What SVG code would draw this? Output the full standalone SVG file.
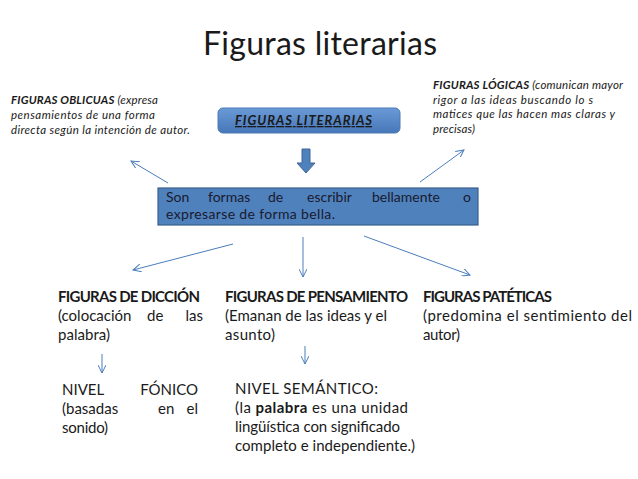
<svg xmlns="http://www.w3.org/2000/svg" width="638" height="479" viewBox="0 0 638 479">
  <style>
    text { font-family: Lato, "Liberation Sans", sans-serif; fill: #1a1a1a; }
    .title { font-size: 32px; }
    .it { font-size: 11.5px; font-style: italic; }
    .b { font-weight: bold; }
    .body { font-size: 15px; }
    .box { font-size: 14px; fill: #1a1a2e; }
    .end { text-anchor: end; }
    .conn { stroke: #4a7ebb; stroke-width: 1; fill: none; }
  </style>
  <defs>
    <linearGradient id="g1" x1="0" y1="0" x2="0" y2="1">
      <stop offset="0" stop-color="#6a9ad6"/>
      <stop offset="1" stop-color="#4777b8"/>
    </linearGradient>
    <marker id="ah" markerWidth="10" markerHeight="8" refX="8" refY="4" orient="auto" markerUnits="userSpaceOnUse">
      <path d="M0,0 L8,4 L0,8" fill="none" stroke="#4a7ebb" stroke-width="1"/>
    </marker>
  </defs>

  <text class="title" x="203" y="55" textLength="234">Figuras literarias</text>

  <g id="oblicuas">
    <text class="it" x="11" y="104" textLength="147"><tspan class="b">FIGURAS OBLICUAS</tspan> (expresa</text>
    <text class="it" x="11" y="119" textLength="144">pensamientos de una forma</text>
    <text class="it" x="11" y="134" textLength="179">directa según la intención de autor.</text>
  </g>

  <g id="logicas">
    <text class="it" x="433" y="89" textLength="190"><tspan class="b">FIGURAS LÓGICAS</tspan> (comunican mayor</text>
    <text class="it" x="433" y="104" textLength="160">rigor a las ideas buscando lo s</text>
    <text class="it" x="433" y="118" textLength="182">matices que las hacen mas claras y</text>
    <text class="it" x="433" y="133" textLength="42">precisas)</text>
  </g>

  <g id="literarias">
    <rect x="218" y="108" width="182" height="25" rx="5" fill="url(#g1)" stroke="#4a7ab5" stroke-width="1"/>
    <text x="235" y="125" font-size="13" font-style="italic" font-weight="bold" text-decoration="underline" fill="#17223b" textLength="137">FIGURAS LITERARIAS</text>
  </g>

  <g id="bigarrow">
    <path d="M302,149 H310 V163 H315 L306,173 L297,163 H302 Z" fill="#4f81bd" stroke="#3d6596" stroke-width="1"/>
  </g>

  <g id="definicion">
    <rect x="158" y="188" width="320" height="37" fill="#4f81bd" stroke="#3a5f8c" stroke-width="1.2"/>
    <text class="box" x="166" y="202">Son</text>
    <text class="box" x="208" y="202">formas</text>
    <text class="box" x="268" y="202">de</text>
    <text class="box" x="307" y="202">escribir</text>
    <text class="box" x="372" y="202">bellamente</text>
    <text class="box end" x="471" y="202">o</text>
    <text class="box" x="166" y="219" textLength="169">expresarse de forma bella.</text>
  </g>

  <g id="diccion">
    <text class="body b" x="58" y="302" textLength="142">FIGURAS  DE DICCIÓN</text>
    <text class="body" x="58" y="321">(colocación</text>
    <text class="body" x="147" y="321">de</text>
    <text class="body end" x="203" y="321">las</text>
    <text class="body" x="58" y="340" textLength="52">palabra)</text>
  </g>

  <g id="pensamiento">
    <text class="body b" x="225" y="302" textLength="183">FIGURAS DE PENSAMIENTO</text>
    <text class="body" x="225" y="321" textLength="162">(Emanan de las ideas y el</text>
    <text class="body" x="225" y="340" textLength="50">asunto)</text>
  </g>

  <g id="pateticas">
    <text class="body b" x="423" y="302" textLength="129">FIGURAS PATÉTICAS</text>
    <text class="body" x="423" y="321" textLength="209">(predomina el sentimiento del</text>
    <text class="body" x="423" y="340" textLength="37">autor)</text>
  </g>

  <g id="fonico">
    <text class="body" x="62" y="395">NIVEL</text>
    <text class="body end" x="198" y="395">FÓNICO</text>
    <text class="body" x="62" y="414">(basadas</text>
    <text class="body" x="158" y="414">en</text>
    <text class="body end" x="198" y="414">el</text>
    <text class="body" x="62" y="433" textLength="46">sonido)</text>
  </g>

  <g id="semantico">
    <text class="body" x="235" y="394" textLength="143">NIVEL SEMÁNTICO:</text>
    <text class="body" x="235" y="413" textLength="173">(la <tspan class="b">palabra</tspan> es una unidad</text>
    <text class="body" x="235" y="432" textLength="165">lingüística con significado</text>
    <text class="body" x="235" y="451" textLength="180">completo e independiente.)</text>
  </g>

  <g id="connectors">
    <line class="conn" x1="168" y1="183" x2="131" y2="161" marker-end="url(#ah)"/>
    <line class="conn" x1="420" y1="182" x2="464" y2="150" marker-end="url(#ah)"/>
    <line class="conn" x1="233" y1="244" x2="133" y2="270" marker-end="url(#ah)"/>
    <line class="conn" x1="303" y1="237" x2="303" y2="277" marker-end="url(#ah)"/>
    <line class="conn" x1="364" y1="236" x2="470" y2="275" marker-end="url(#ah)"/>
    <line class="conn" x1="102" y1="354" x2="102" y2="373" marker-end="url(#ah)"/>
    <line class="conn" x1="305" y1="346" x2="305" y2="364" marker-end="url(#ah)"/>
  </g>
</svg>
